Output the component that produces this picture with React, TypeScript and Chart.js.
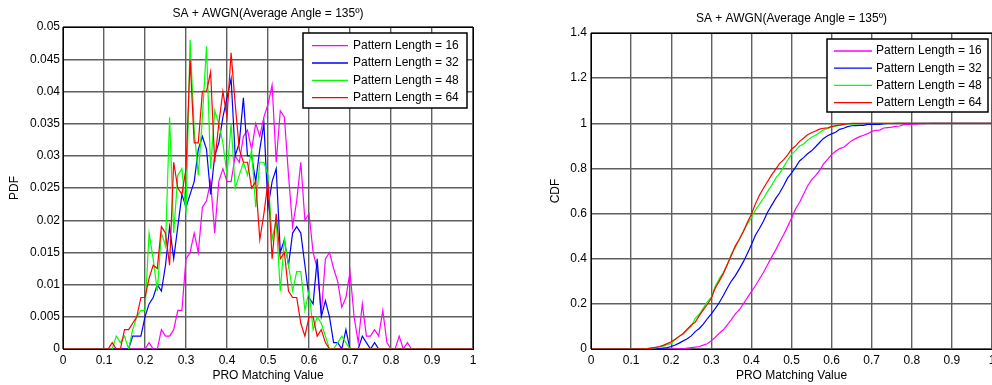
import React, { useEffect, useRef } from "react";
import { Chart, registerables } from "chart.js";

Chart.register(...registerables);

const FONT = "'Liberation Sans', Arial, Helvetica, sans-serif";

// ---------- data ----------
// bin positions of the PRO matching value (0.00 … 1.00, step 0.01)
const proMatchingValue: number[] = Array.from({ length: 101 }, (_, i) => Number((i / 100).toFixed(2)));

const seriesLabels = [
  "Pattern Length = 16",
  "Pattern Length = 32",
  "Pattern Length = 48",
  "Pattern Length = 64",
];
const seriesColors = ["#ff00ff", "#0000ff", "#00ff00", "#ff0000"];

const pdf16 = [
  0, 0, 0, 0, 0, 0, 0, 0, 0, 0,
  0, 0, 0, 0, 0, 0, 0, 0, 0, 0,
  0, 0.001, 0, 0, 0.003, 0.002, 0.002, 0.003, 0.006, 0.006,
  0.014, 0.015, 0.018, 0.015, 0.022, 0.023, 0.026, 0.018, 0.026, 0.028,
  0.026, 0.026, 0.030, 0.029, 0.033, 0.034, 0.031, 0.035, 0.033, 0.036,
  0.038, 0.041, 0.029, 0.037, 0.036, 0.027, 0.019, 0.023, 0.029, 0.020,
  0.021, 0.015, 0.0125, 0.0055, 0.014, 0.015, 0.0125, 0.0105, 0.0065, 0.008,
  0.012, 0.005, 0.001, 0.007, 0.002, 0.002, 0.003, 0.002, 0.006, 0.001,
  0, 0, 0.002, 0, 0.001, 0, 0, 0, 0, 0,
  0, 0, 0, 0, 0, 0, 0, 0, 0, 0,
  0,
];
const pdf32 = [
  0, 0, 0, 0, 0, 0, 0, 0, 0, 0,
  0, 0, 0, 0, 0, 0, 0, 0.002, 0.002, 0.002,
  0.005, 0.007, 0.008, 0.010, 0.009, 0.013, 0.019, 0.014, 0.019, 0.024,
  0.022, 0.024, 0.026, 0.031, 0.033, 0.031, 0.024, 0.030, 0.032, 0.036,
  0.039, 0.042, 0.030, 0.032, 0.039, 0.030, 0.030, 0.026, 0.031, 0.035,
  0.022, 0.026, 0.028, 0.015, 0.017, 0.013, 0.018, 0.019, 0.018, 0.013,
  0.008, 0.007, 0.014, 0.005, 0.0075, 0.005, 0.001, 0.001, 0, 0.003,
  0, 0, 0, 0.002, 0.001, 0, 0.001, 0, 0, 0,
  0, 0, 0, 0, 0, 0, 0, 0, 0, 0,
  0, 0, 0, 0, 0, 0, 0, 0, 0, 0,
  0,
];
const pdf48 = [
  0, 0, 0, 0, 0, 0, 0, 0, 0, 0,
  0, 0, 0, 0.002, 0.001, 0.002, 0, 0.003, 0.005, 0.006,
  0.006, 0.018, 0.014, 0.009, 0.018, 0.016, 0.036, 0.018, 0.027, 0.028,
  0.021, 0.048, 0.034, 0.027, 0.036, 0.047, 0.028, 0.037, 0.035, 0.032,
  0.027, 0.035, 0.025, 0.027, 0.029, 0.027, 0.031, 0.022, 0.029, 0.029,
  0.027, 0.017, 0.020, 0.009, 0.017, 0.013, 0.009, 0.012, 0.012, 0.006,
  0.009, 0.003, 0.005, 0.004, 0.002, 0, 0, 0.001, 0.002, 0.001,
  0, 0, 0, 0, 0, 0, 0, 0, 0, 0,
  0, 0, 0, 0, 0, 0, 0, 0, 0, 0,
  0, 0, 0, 0, 0, 0, 0, 0, 0, 0,
  0,
];
const pdf64 = [
  0, 0, 0, 0, 0, 0, 0, 0, 0, 0,
  0, 0, 0.001, 0, 0, 0.003, 0.003, 0.004, 0.005, 0.008,
  0.008, 0.011, 0.013, 0.0125, 0.019, 0.018, 0.013, 0.029, 0.025, 0.024,
  0.028, 0.045, 0.032, 0.032, 0.040, 0.040, 0.043, 0.029, 0.035, 0.040,
  0.036, 0.046, 0.038, 0.031, 0.029, 0.029, 0.025, 0.026, 0.017, 0.021,
  0.026, 0.014, 0.021, 0.014, 0.015, 0.009, 0.008, 0.008, 0.004, 0.002,
  0.005, 0.005, 0.002, 0.003, 0.001, 0, 0, 0, 0, 0,
  0, 0, 0, 0, 0, 0, 0, 0, 0, 0,
  0, 0, 0, 0, 0, 0, 0, 0, 0, 0,
  0, 0, 0, 0, 0, 0, 0, 0, 0, 0,
  0,
];

const cdf16 = [
  0, 0, 0, 0, 0, 0, 0, 0, 0, 0,
  0, 0, 0, 0, 0, 0, 0, 0, 0, 0,
  0, 0.001, 0.001, 0.001, 0.004, 0.006, 0.008, 0.011, 0.017, 0.023,
  0.037, 0.052, 0.070, 0.085, 0.107, 0.130, 0.156, 0.174, 0.200, 0.228,
  0.254, 0.280, 0.310, 0.339, 0.372, 0.406, 0.437, 0.472, 0.505, 0.541,
  0.579, 0.620, 0.649, 0.686, 0.722, 0.749, 0.768, 0.791, 0.820, 0.840,
  0.861, 0.876, 0.888, 0.894, 0.908, 0.923, 0.932, 0.941, 0.947, 0.954,
  0.964, 0.969, 0.970, 0.979, 0.981, 0.983, 0.986, 0.988, 0.994, 0.995,
  0.996, 0.996, 0.998, 0.998, 0.999, 1, 1, 1, 1, 1,
  1, 1, 1, 1, 1, 1, 1, 1, 1, 1,
  1,
];
const cdf32 = [
  0, 0, 0, 0, 0, 0, 0, 0, 0, 0,
  0, 0, 0, 0, 0, 0, 0, 0.002, 0.004, 0.006,
  0.011, 0.018, 0.026, 0.036, 0.045, 0.058, 0.077, 0.091, 0.110, 0.134,
  0.156, 0.180, 0.206, 0.237, 0.270, 0.301, 0.325, 0.355, 0.387, 0.423,
  0.462, 0.504, 0.534, 0.566, 0.605, 0.635, 0.665, 0.691, 0.722, 0.757,
  0.779, 0.805, 0.833, 0.848, 0.865, 0.878, 0.896, 0.915, 0.933, 0.945,
  0.953, 0.960, 0.973, 0.978, 0.985, 0.989, 0.990, 0.991, 0.991, 0.995,
  0.995, 0.995, 0.995, 0.998, 0.999, 0.999, 1, 1, 1, 1,
  1, 1, 1, 1, 1, 1, 1, 1, 1, 1,
  1, 1, 1, 1, 1, 1, 1, 1, 1, 1,
  1,
];
const cdf48 = [
  0, 0, 0, 0, 0, 0, 0, 0, 0, 0,
  0, 0, 0, 0.002, 0.003, 0.005, 0.005, 0.008, 0.013, 0.019,
  0.025, 0.043, 0.057, 0.066, 0.084, 0.100, 0.136, 0.154, 0.181, 0.209,
  0.230, 0.278, 0.312, 0.339, 0.375, 0.422, 0.450, 0.487, 0.522, 0.554,
  0.581, 0.616, 0.641, 0.668, 0.697, 0.724, 0.755, 0.777, 0.806, 0.835,
  0.862, 0.879, 0.899, 0.908, 0.925, 0.938, 0.947, 0.959, 0.971, 0.977,
  0.984, 0.987, 0.992, 0.995, 0.997, 0.997, 0.997, 0.998, 0.999, 1,
  1, 1, 1, 1, 1, 1, 1, 1, 1, 1,
  1, 1, 1, 1, 1, 1, 1, 1, 1, 1,
  1, 1, 1, 1, 1, 1, 1, 1, 1, 1,
  1,
];
const cdf64 = [
  0, 0, 0, 0, 0, 0, 0, 0, 0, 0,
  0, 0, 0.001, 0.001, 0.001, 0.004, 0.007, 0.011, 0.016, 0.024,
  0.032, 0.043, 0.056, 0.069, 0.088, 0.106, 0.119, 0.148, 0.173, 0.197,
  0.225, 0.270, 0.302, 0.334, 0.374, 0.414, 0.457, 0.486, 0.521, 0.561,
  0.597, 0.643, 0.681, 0.712, 0.741, 0.770, 0.795, 0.821, 0.838, 0.859,
  0.885, 0.899, 0.920, 0.934, 0.949, 0.958, 0.966, 0.974, 0.978, 0.980,
  0.985, 0.990, 0.992, 0.995, 0.998, 1, 1, 1, 1, 1,
  1, 1, 1, 1, 1, 1, 1, 1, 1, 1,
  1, 1, 1, 1, 1, 1, 1, 1, 1, 1,
  1, 1, 1, 1, 1, 1, 1, 1, 1, 1,
  1,
];

const xTickValues = [0, 0.1, 0.2, 0.3, 0.4, 0.5, 0.6, 0.7, 0.8, 0.9, 1];
const xTickLabels = ["0", "0.1", "0.2", "0.3", "0.4", "0.5", "0.6", "0.7", "0.8", "0.9", "1"];
const pdfTickValues = [0, 0.005, 0.01, 0.015, 0.02, 0.025, 0.03, 0.035, 0.04, 0.045, 0.05];
const pdfTickLabels = ["0", "0.005", "0.01", "0.015", "0.02", "0.025", "0.03", "0.035", "0.04", "0.045", "0.05"];
const cdfTickValues = [0, 0.2, 0.4, 0.6, 0.8, 1, 1.2, 1.4];
const cdfTickLabels = ["0", "0.2", "0.4", "0.6", "0.8", "1", "1.2", "1.4"];

const chartTitle = "SA + AWGN(Average Angle = 135º)";
const xAxisTitle = "PRO Matching Value";

// ---------- drawing helpers ----------
const matlabDecor = {
  id: "matlabDecor",
  afterDatasetsDraw(chart: any, _args: any, opts: any) {
    const { ctx, chartArea: a } = chart;
    ctx.save();
    // axes box
    ctx.strokeStyle = "#000";
    ctx.lineWidth = 1;
    ctx.strokeRect(Math.round(a.left) + 0.5, Math.round(a.top) + 0.5, Math.round(a.right - a.left), Math.round(a.bottom - a.top));
    // title
    ctx.fillStyle = "#000";
    ctx.font = `12px ${FONT}`;
    ctx.textAlign = "center";
    ctx.textBaseline = "middle";
    ctx.fillText(opts.title, (a.left + a.right) / 2, opts.titleY);
    // legend
    const L = opts.legend;
    ctx.fillStyle = "#fff";
    ctx.fillRect(L.x, L.y, L.w, L.h);
    ctx.strokeStyle = "#000";
    ctx.lineWidth = 1.5;
    ctx.strokeRect(L.x, L.y, L.w, L.h);
    chart.data.datasets.forEach((ds: any, i: number) => {
      const y = L.y + L.row0 + i * L.rowStep;
      ctx.strokeStyle = ds.borderColor;
      ctx.lineWidth = 1.3;
      ctx.beginPath();
      ctx.moveTo(L.x + L.lineStart, y);
      ctx.lineTo(L.x + L.lineEnd, y);
      ctx.stroke();
      ctx.fillStyle = "#000";
      ctx.textAlign = "left";
      ctx.textBaseline = "middle";
      ctx.fillText(ds.label, L.x + L.textStart, y);
    });
    ctx.restore();
  },
};

type PanelSpec = {
  left: number;
  width: number;
  height: number;
  area: { left: number; top: number; right: number; bottom: number };
  series: number[][];
  yTicks: number[];
  yLabels: string[];
  yTitle: string;
  yTitleX: number;
  yTickPad: number;
  titleY: number;
  legend: any;
};

function buildConfig(p: PanelSpec): any {
  const datasets = p.series.map((vals, i) => ({
    label: seriesLabels[i],
    data: vals.map((v, k) => ({ x: proMatchingValue[k], y: v })),
    borderColor: seriesColors[i],
    backgroundColor: seriesColors[i],
    borderWidth: 1.2,
    pointRadius: 0,
    tension: 0,
    fill: false,
    order: p.series.length - i,
  }));
  const gridColor = "#5f5f5f";
  const gridWidth = 1.4;
  return {
    type: "line",
    data: { datasets },
    plugins: [matlabDecor],
    options: {
      responsive: false,
      animation: false,
      devicePixelRatio: 1,
      events: [],
      layout: {
        padding: { left: 0, top: p.area.top, right: p.width - p.area.right, bottom: 0 },
      },
      plugins: {
        legend: { display: false },
        tooltip: { enabled: false },
        title: { display: false },
        matlabDecor: { title: chartTitle, titleY: p.titleY, legend: p.legend },
      },
      scales: {
        x: {
          type: "linear",
          min: 0,
          max: 1,
          afterBuildTicks: (s: any) => {
            s.ticks = xTickValues.map((v) => ({ value: v }));
          },
          afterFit: (s: any) => {
            s.height = p.height - p.area.bottom;
          },
          ticks: {
            autoSkip: false,
            maxRotation: 0,
            padding: 4,
            color: "#000",
            font: { family: FONT, size: 12 },
            callback: (_v: any, i: number) => xTickLabels[i],
          },
          grid: { color: gridColor, lineWidth: gridWidth, drawTicks: false },
          border: { display: false },
          title: {
            display: true,
            text: xAxisTitle,
            color: "#000",
            font: { family: FONT, size: 12 },
            padding: { top: 0, bottom: 1.8 },
          },
        },
        y: {
          type: "linear",
          min: 0,
          max: p.yTicks[p.yTicks.length - 1],
          afterBuildTicks: (s: any) => {
            s.ticks = p.yTicks.map((v) => ({ value: v }));
          },
          afterFit: (s: any) => {
            s.width = p.area.left;
          },
          ticks: {
            autoSkip: false,
            padding: p.yTickPad,
            color: "#000",
            font: { family: FONT, size: 12 },
            callback: (_v: any, i: number) => p.yLabels[i],
          },
          grid: { color: gridColor, lineWidth: gridWidth, drawTicks: false },
          border: { display: false },
          title: {
            display: true,
            text: p.yTitle,
            color: "#000",
            font: { family: FONT, size: 12 },
            padding: { top: p.yTitleX - 7.2, bottom: 0 },
          },
        },
      },
    },
  };
}

function Panel({ spec }: { spec: PanelSpec }) {
  const ref = useRef<HTMLCanvasElement | null>(null);
  useEffect(() => {
    if (!ref.current) return;
    const chart = new Chart(ref.current, buildConfig(spec));
    return () => chart.destroy();
  }, [spec]);
  return (
    <canvas
      ref={ref}
      width={spec.width}
      height={spec.height}
      style={{ position: "absolute", left: spec.left, top: 0, width: spec.width, height: spec.height }}
    />
  );
}

const pdfPanel: PanelSpec = {
  left: 0,
  width: 496,
  height: 385,
  area: { left: 63, top: 27, right: 473, bottom: 349 },
  series: [pdf16, pdf32, pdf48, pdf64],
  yTicks: pdfTickValues,
  yLabels: pdfTickLabels,
  yTitle: "PDF",
  yTitleX: 15,
  yTickPad: 3,
  titleY: 14,
  legend: { x: 303, y: 33, w: 164, h: 75, row0: 12.7, rowStep: 17.3, lineStart: 9, lineEnd: 45, textStart: 50 },
};

const cdfPanel: PanelSpec = {
  left: 496,
  width: 520,
  height: 385,
  area: { left: 95, top: 33, right: 496, bottom: 349 },
  series: [cdf16, cdf32, cdf48, cdf64],
  yTicks: cdfTickValues,
  yLabels: cdfTickLabels,
  yTitle: "CDF",
  yTitleX: 60,
  yTickPad: 4,
  titleY: 19,
  legend: { x: 331, y: 39, w: 161, h: 73, row0: 12, rowStep: 17.2, lineStart: 7, lineEnd: 45, textStart: 49 },
};

export default function App() {
  return (
    <div
      style={{
        position: "fixed",
        left: 0,
        top: 0,
        width: 992,
        height: 385,
        overflow: "hidden",
        background: "#fff",
      }}
    >
      <Panel spec={pdfPanel} />
      <Panel spec={cdfPanel} />
    </div>
  );
}
